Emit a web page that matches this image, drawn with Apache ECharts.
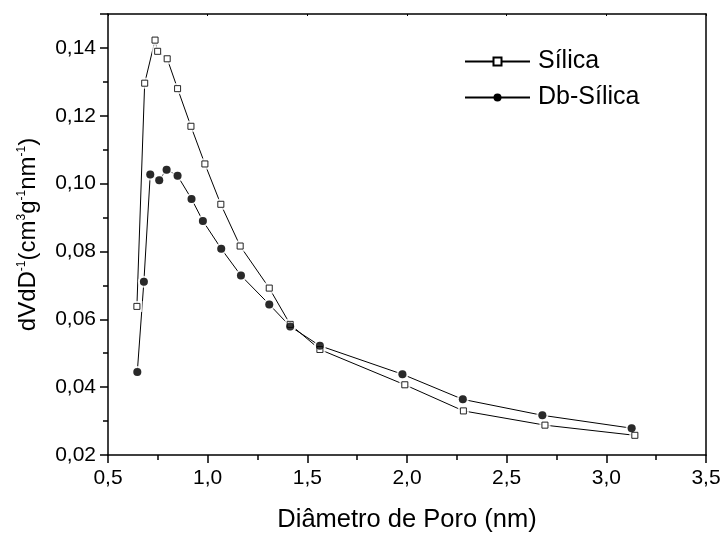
<!DOCTYPE html>
<html><head><meta charset="utf-8">
<script src="https://cdn.jsdelivr.net/npm/echarts@6/dist/echarts.min.js"></script>
<style>html,body{margin:0;padding:0;background:#fff}#c{width:724px;height:538px}</style>
</head><body><div id="c"></div>
<script>
// Sílica (hollow squares)
const silicaX = [0.645, 0.684, 0.736, 0.749, 0.797, 0.849, 0.916, 0.986, 1.066, 1.163, 1.309, 1.414, 1.563, 1.989, 2.283, 2.692, 3.143];
const silicaY = [0.0638, 0.1296, 0.1423, 0.1390, 0.1368, 0.1280, 0.1169, 0.1058, 0.0939, 0.0816, 0.0692, 0.0585, 0.0511, 0.0407, 0.0330, 0.0288, 0.0258];
// Db-Sílica (filled circles)
const dbX = [0.647, 0.680, 0.712, 0.757, 0.794, 0.849, 0.919, 0.976, 1.068, 1.167, 1.309, 1.414, 1.563, 1.977, 2.280, 2.679, 3.127];
const dbY = [0.0445, 0.0711, 0.1027, 0.1010, 0.1041, 0.1023, 0.0955, 0.0890, 0.0808, 0.0729, 0.0644, 0.0579, 0.0522, 0.0438, 0.0364, 0.0317, 0.0279];
const seriesNames = ['Sílica', 'Db-Sílica'];
const xTitle = 'Diâmetro de Poro (nm)';

const pair = (xs, ys) => xs.map((x, i) => [x, ys[i]]);
const sData = pair(silicaX, silicaY);
const dData = pair(dbX, dbY);
const FONT = 'Liberation Sans, Arial, sans-serif';
const comma = (v, d) => v.toFixed(d).replace('.', ',');

const chart = echarts.init(document.getElementById('c'), null, {renderer: 'canvas'});
const axisCommon = {
  axisLine: {show: true, onZero: false, lineStyle: {color: '#000', width: 1.5}},
  splitLine: {show: false}
};
chart.setOption({
  animation: false,
  backgroundColor: '#fff',
  grid: {left: 108, right: 18, top: 14, bottom: 83, containLabel: false},
  legend: {
    data: seriesNames, orient: 'vertical', left: 459, top: 44,
    itemWidth: 65, itemHeight: 10, itemGap: 11,
    textStyle: {fontFamily: FONT, fontSize: 25, color: '#000', padding: [0, 0, 0, 3]}
  },
  xAxis: [{
    ...axisCommon, type: 'value', min: 0.5, max: 3.5, interval: 0.5, position: 'bottom',
    axisTick: {show: true, inside: false, length: 8, lineStyle: {color: '#000', width: 1.5}},
    minorTick: {show: true, splitNumber: 2, length: 5, lineStyle: {color: '#000', width: 1.5}},
    axisLabel: {fontFamily: FONT, fontSize: 21, color: '#000', margin: 13, formatter: v => comma(v, 1)},
    name: xTitle, nameLocation: 'middle', nameGap: 52,
    nameTextStyle: {fontFamily: FONT, fontSize: 25.5, color: '#000'}
  }, {
    ...axisCommon, type: 'value', min: 0.5, max: 3.5, interval: 0.5, position: 'top',
    axisTick: {show: true, inside: true, length: 2, lineStyle: {color: '#000'}},
    axisLabel: {show: false}
  }],
  yAxis: [{
    ...axisCommon, type: 'value', min: 0.02, max: 0.15, interval: 0.02, position: 'left',
    axisTick: {show: true, inside: false, length: 8, lineStyle: {color: '#000', width: 1.5}},
    minorTick: {show: true, splitNumber: 2, length: 5, lineStyle: {color: '#000', width: 1.5}},
    axisLabel: {fontFamily: FONT, fontSize: 21, color: '#000', margin: 12,
      formatter: v => (Math.abs(v * 100 - Math.round(v * 100)) < 1e-6 && Math.round(v * 100) % 2 === 0) ? comma(v, 2) : ''},
    name: '{t|dVdD}{s|-1}{t|(cm}{s|3}{t|g}{s|-1}{t|nm}{s|-1}{t|)}',
    nameLocation: 'middle', nameGap: 68, nameRotate: 90,
    nameTextStyle: {
      fontFamily: FONT, fontSize: 24, color: '#000',
      rich: {
        t: {fontFamily: FONT, fontSize: 24, color: '#000'},
        s: {fontFamily: FONT, fontSize: 12, color: '#000', verticalAlign: 'top'}
      }
    }
  }, {
    ...axisCommon, type: 'value', min: 0.02, max: 0.15, interval: 0.02, position: 'right',
    axisTick: {show: false},
    axisLabel: {show: false}
  }],
  series: [
    {name: seriesNames[0], type: 'line', data: sData, z: 2,
      symbol: 'rect', symbolSize: 6, showSymbol: true,
      lineStyle: {color: '#000', width: 1},
      itemStyle: {color: '#fff', borderColor: '#000', borderWidth: 1}},
    {name: seriesNames[1], type: 'line', data: dData, z: 2,
      symbol: 'circle', symbolSize: 8, showSymbol: true,
      lineStyle: {color: '#000', width: 1},
      itemStyle: {color: '#000', borderColor: '#000', borderWidth: 0}},
    // white halos to create Origin-style gaps between lines and markers
    {type: 'scatter', data: sData, z: 3, symbol: 'rect', symbolSize: 11, silent: true,
      itemStyle: {color: '#fff'}},
    {type: 'scatter', data: dData, z: 3, symbol: 'circle', symbolSize: 12, silent: true,
      itemStyle: {color: '#fff'}},
    {type: 'scatter', data: sData, z: 4, symbol: 'rect', symbolSize: 6, silent: true,
      itemStyle: {color: '#fff', borderColor: '#000', borderWidth: 1}},
    {type: 'scatter', data: dData, z: 4, symbol: 'circle', symbolSize: 8, silent: true,
      itemStyle: {color: '#000'}}
  ]
});
</script></body></html>
